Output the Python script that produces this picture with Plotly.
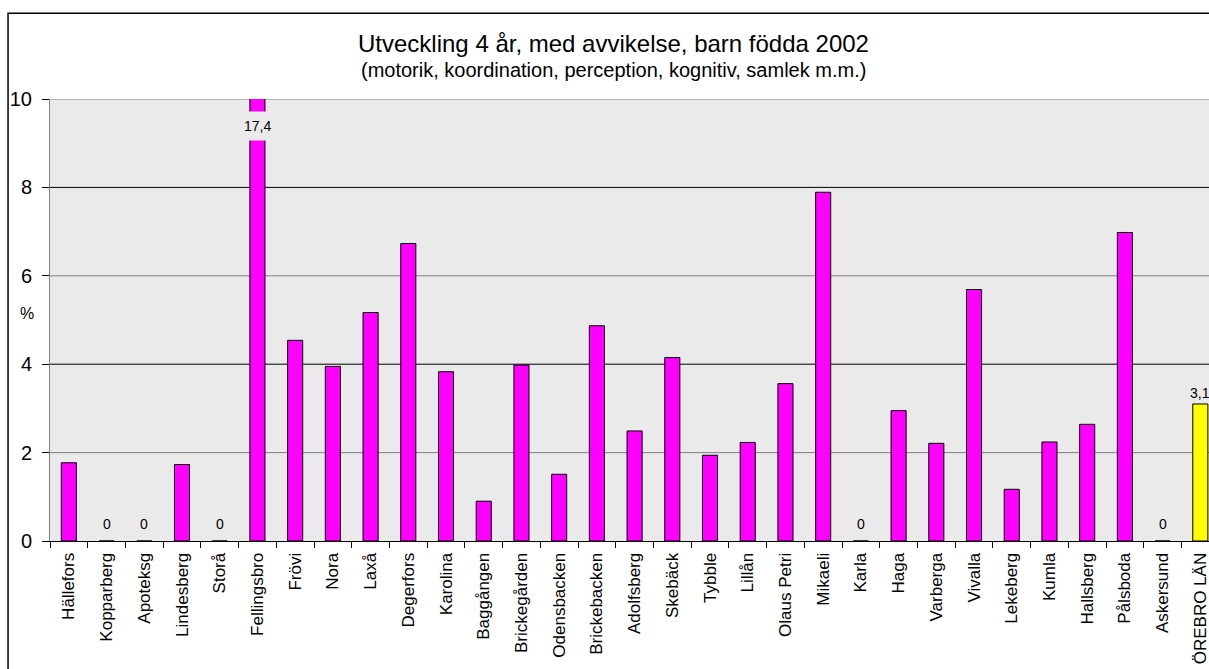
import plotly.graph_objects as go

# Kommuner / områden och andel (%) barn med avvikelse vid 4-årskontroll
categories = ["Hällefors", "Kopparberg", "Apoteksg", "Lindesberg", "Storå",
              "Fellingsbro", "Frövi", "Nora", "Laxå", "Degerfors", "Karolina",
              "Baggången", "Brickegården", "Odensbacken", "Brickebacken",
              "Adolfsberg", "Skebäck", "Tybble", "Lillån", "Olaus Petri",
              "Mikaeli", "Karla", "Haga", "Varberga", "Vivalla", "Lekeberg",
              "Kumla", "Hallsberg", "Pålsboda", "Askersund", "ÖREBRO LÄN"]
values = [1.77, 0, 0, 1.73, 0, 17.4, 4.54, 3.95, 5.17, 6.73, 3.83,
          0.90, 3.98, 1.51, 4.87, 2.49, 4.15, 1.94, 2.23, 3.56,
          7.89, 0, 2.95, 2.21, 5.69, 1.17, 2.24, 2.64, 6.98, 0, 3.1]
total_label = "ÖREBRO LÄN"
y_max = 10
y_ticks = [0, 2, 4, 6, 8, 10]

FONT = "Liberation Sans, Arial, sans-serif"
PLOT_BG = "#EAEAEA"


def fmt(v):
    return f"{v:.1f}".replace(".", ",") if v % 1 else f"{v:.0f}"


colors = ["#FFFF00" if c == total_label else "#FF00FF" for c in categories]

fig = go.Figure()
fig.add_trace(go.Bar(
    x=categories, y=values,
    marker=dict(color=colors, line=dict(color="#000000", width=1)),
    width=0.4, hoverinfo="x+y",
))

label_font = dict(family=FONT, size=14, color="#000000")
for c, v in zip(categories, values):
    if v > y_max:
        # bar runs past the axis: print its value across the bar
        fig.add_annotation(x=c, y=9.39, xref="x", yref="y", text=fmt(v),
                           showarrow=False, font=label_font,
                           bgcolor=PLOT_BG, borderpad=6)
    elif v == 0:
        fig.add_annotation(x=c, y=v, xref="x", yref="y", text=fmt(v),
                           showarrow=False, font=label_font,
                           yanchor="bottom", yshift=7)
    elif c == total_label:
        fig.add_annotation(x=c, y=v, xref="x", yref="y", text=fmt(v),
                           showarrow=False, font=label_font,
                           yanchor="bottom", yshift=1)

# horizontal grid lines
shapes = []
for t in y_ticks[1:]:
    col = "#000000" if t in (4, 8) else "#808080"
    shapes.append(dict(type="line", xref="paper", yref="y", x0=0, x1=1,
                       y0=t, y1=t, line=dict(color=col, width=1),
                       layer="below"))
# outer chart frame
shapes.append(dict(type="rect", xref="paper", yref="paper",
                   x0=-0.0362, x1=1.05, y0=-0.31, y1=1.194,
                   line=dict(color="#000000", width=1.5), layer="above"))

# title and subtitle: title anchored on its bottom, subtitle on its top
fig.add_annotation(x=0.486, y=1.0, xref="paper", yref="paper",
                   yanchor="bottom", yshift=41, borderpad=0,
                   text="Utveckling 4 år, med avvikelse, barn födda 2002",
                   showarrow=False, font=dict(family=FONT, size=24, color="#000"))
fig.add_annotation(x=0.486, y=1.0, xref="paper", yref="paper",
                   yanchor="top", yshift=41, borderpad=0,
                   text="(motorik, koordination, perception, kognitiv, samlek m.m.)",
                   showarrow=False, font=dict(family=FONT, size=20, color="#000"))
fig.add_annotation(x=-0.0195, y=0.515, xref="paper", yref="paper", text="%",
                   xanchor="center", yanchor="middle",
                   showarrow=False, font=dict(family=FONT, size=16, color="#000"))

fig.update_layout(
    width=1209, height=669,
    margin=dict(l=50, r=0, t=99, b=128),
    paper_bgcolor="#FFFFFF", plot_bgcolor=PLOT_BG,
    showlegend=False, shapes=shapes,
    font=dict(family=FONT, color="#000000"),
)
fig.update_xaxes(
    range=[-0.5, 30.23], tickangle=-90, tickson="boundaries",
    ticks="outside", ticklen=6, tickcolor="#000000",
    showline=True, linecolor="#000000", linewidth=1,
    showgrid=False, ticklabelstandoff=4,
    tickfont=dict(family=FONT, size=17, color="#000"),
)
fig.update_yaxes(
    range=[0, y_max], tickvals=y_ticks, ticks="outside", ticklen=7,
    tickcolor="#000000", showline=True, linecolor="#808080", linewidth=1,
    showgrid=False, zeroline=False, ticklabelstandoff=6,
    tickfont=dict(family=FONT, size=20, color="#000"),
)

fig.write_html("out.html")
